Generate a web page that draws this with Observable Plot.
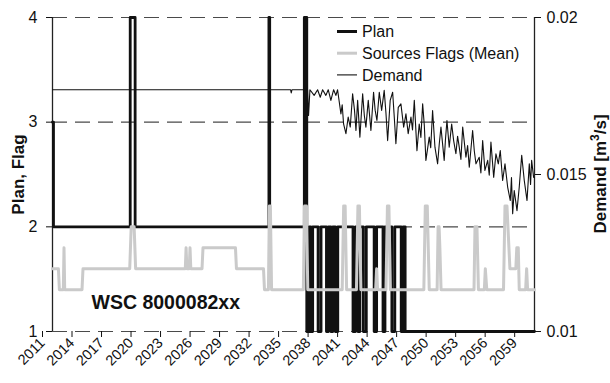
<!DOCTYPE html>
<html><head><meta charset="utf-8">
<script src="https://cdn.jsdelivr.net/npm/d3@7"></script>
<script src="https://cdn.jsdelivr.net/npm/@observablehq/plot@0.6"></script>
<style>
body{margin:0;background:#fff;}
#chart{position:relative;width:610px;height:383px;}
</style></head><body><div id="chart"></div>
<script>
// ---- data ----
const xDomain = [2011, 2060];
const xTicks = [2011, 2014, 2017, 2020, 2023, 2026, 2029, 2032, 2035, 2038, 2041, 2044, 2047, 2050, 2053, 2056, 2059];
const yTicks = [1, 2, 3, 4];
const demandTicks = [0.01, 0.015, 0.02];
const demandTickLabels = ["0.01", "0.015", "0.02"];
const seriesNames = ["Plan", "Sources Flags (Mean)", "Demand"];
const annotation = "WSC 8000082xx";
const leftLabel = "Plan, Flag";
const rightLabelParts = ["Demand [m", "3", "/s]"];

const planT = [2011.0, 2011.1, 2018.9, 2019.4, 2033.0, 2033.08, 2036.6, 2036.85, 2037.1, 2037.25, 2037.45, 2038.0, 2038.3, 2038.85, 2039.05, 2039.3, 2039.5, 2039.75, 2040.0, 2041.55, 2041.8, 2042.05, 2042.25, 2042.6, 2042.9, 2043.7, 2043.95, 2044.6, 2044.8, 2045.5, 2045.8, 2046.45, 2046.65, 2046.85, 2060.0];
const planV = [3, 2, 4, 2, 4, 2, 4, 1, 2, 1, 2, 1, 2, 1, 2, 1, 2, 1, 2, 1, 2, 1, 2, 1, 2, 1, 2, 1, 2, 1, 2, 1, 2, 1, 1];

const flagT = [2011.0, 2011.6, 2011.7, 2012.1, 2012.17, 2012.24, 2014.0, 2014.1, 2018.85, 2019.0, 2019.3, 2019.45, 2024.5, 2024.58, 2024.66, 2024.9, 2024.98, 2025.06, 2026.2, 2026.3, 2029.6, 2029.7, 2032.45, 2032.55, 2032.95, 2033.05, 2033.15, 2033.27, 2036.5, 2036.62, 2036.82, 2036.95, 2040.45, 2040.6, 2040.75, 2040.9, 2041.9, 2042.05, 2042.2, 2042.35, 2043.85, 2043.95, 2044.05, 2044.9, 2045.05, 2045.2, 2045.35, 2048.75, 2048.9, 2049.1, 2049.3, 2050.1, 2050.2, 2050.3, 2050.38, 2050.5, 2053.85, 2053.95, 2054.15, 2054.3, 2054.9, 2055.0, 2055.15, 2056.85, 2057.0, 2057.2, 2057.5, 2058.1, 2058.2, 2058.35, 2058.45, 2059.1, 2059.2, 2059.3, 2060.0];
const flagV = [1.6, 1.6, 1.4, 1.4, 1.8, 1.4, 1.4, 1.6, 1.6, 2.0, 2.0, 1.6, 1.6, 1.8, 1.6, 1.6, 1.8, 1.6, 1.6, 1.8, 1.8, 1.6, 1.6, 1.4, 1.4, 2.2, 2.2, 1.4, 1.4, 2.2, 2.2, 1.4, 1.4, 2.2, 2.2, 1.4, 1.4, 2.2, 2.2, 1.4, 1.4, 1.6, 1.4, 1.4, 2.2, 2.2, 1.4, 1.4, 2.2, 2.2, 1.4, 1.4, 2.0, 2.0, 1.8, 1.4, 1.4, 2.0, 2.0, 1.4, 1.4, 1.6, 1.4, 1.4, 2.2, 2.2, 1.6, 1.6, 1.8, 1.8, 1.4, 1.4, 1.6, 1.4, 1.4];

const demT = [2011.0, 2032.95, 2033.02, 2033.1, 2035.2, 2035.27, 2035.35, 2036.93, 2037.03, 2037.17, 2037.6, 2037.95, 2038.22, 2038.46, 2038.79, 2039.03, 2039.3, 2039.58, 2039.81, 2039.98, 2040.32, 2040.45, 2040.59, 2040.83, 2041.06, 2041.27, 2041.51, 2041.7, 2041.85, 2042.02, 2042.25, 2042.53, 2042.7, 2042.86, 2043.1, 2043.37, 2043.64, 2043.8, 2043.98, 2044.22, 2044.46, 2044.72, 2044.9, 2045.07, 2045.33, 2045.58, 2045.75, 2045.91, 2046.15, 2046.42, 2046.7, 2046.93, 2047.16, 2047.44, 2047.6, 2047.78, 2048.05, 2048.28, 2048.45, 2048.63, 2048.8, 2048.96, 2049.3, 2049.45, 2049.64, 2049.88, 2050.15, 2050.32, 2050.49, 2050.82, 2050.95, 2051.1, 2051.33, 2051.58, 2051.78, 2052.01, 2052.18, 2052.35, 2052.52, 2052.7, 2053.03, 2053.2, 2053.37, 2053.71, 2053.88, 2054.05, 2054.38, 2054.55, 2054.73, 2054.96, 2055.24, 2055.4, 2055.57, 2055.85, 2056.08, 2056.32, 2056.52, 2056.76, 2057.0, 2057.27, 2057.54, 2057.66, 2057.78, 2057.94, 2058.22, 2058.45, 2058.7, 2058.96, 2059.24, 2059.47, 2059.6, 2059.71, 2059.91, 2060.0];
const demV = [0.0177, 0.0177, 0.01758, 0.0177, 0.0177, 0.0176, 0.0177, 0.0177, 0.01688, 0.0177, 0.01752, 0.0177, 0.01746, 0.0177, 0.01752, 0.0177, 0.01736, 0.0177, 0.01752, 0.0177, 0.01693, 0.01722, 0.01661, 0.0163, 0.01683, 0.01651, 0.01757, 0.01705, 0.0164, 0.01736, 0.01619, 0.01757, 0.01688, 0.01651, 0.01736, 0.0164, 0.01762, 0.01705, 0.01672, 0.01762, 0.01704, 0.01768, 0.01695, 0.01608, 0.01736, 0.01762, 0.0168, 0.01598, 0.01714, 0.01725, 0.01651, 0.01693, 0.0163, 0.01683, 0.01642, 0.01736, 0.01576, 0.01661, 0.01618, 0.01725, 0.01655, 0.01545, 0.01619, 0.01585, 0.01704, 0.01587, 0.01534, 0.01598, 0.01651, 0.01545, 0.01612, 0.01672, 0.01587, 0.01661, 0.01608, 0.01566, 0.01622, 0.01587, 0.01548, 0.01651, 0.01555, 0.01592, 0.01523, 0.0164, 0.01575, 0.01534, 0.01555, 0.01505, 0.01608, 0.01513, 0.01545, 0.01498, 0.01603, 0.01491, 0.01566, 0.01534, 0.01576, 0.01481, 0.01534, 0.0146, 0.01417, 0.0149, 0.01375, 0.01449, 0.01385, 0.0146, 0.01561, 0.01481, 0.01417, 0.01534, 0.01468, 0.01545, 0.01491, 0.0149];

// ---- build ----
const plan = planT.map((t, i) => ({t, v: planV[i]}));
const flags = flagT.map((t, i) => ({t, v: flagV[i]}));
const demand = demT.map((t, i) => ({t, v: demV[i]}));
const toLeft = d => 1 + (d - 0.01) / 0.01 * 3;
const rightTickPos = demandTicks.map(toLeft);
const rightFmt = p => demandTickLabels[rightTickPos.findIndex(q => Math.abs(q - p) < 1e-9)];

const FONT = "'Liberation Sans', Arial, Helvetica, sans-serif";
const colors = {plan: "#111111", flags: "#cacaca", demand: "#111111"};

const plot = Plot.plot({
  width: 610, height: 383,
  marginLeft: 52, marginRight: 76, marginTop: 17, marginBottom: 52,
  style: {fontFamily: FONT, fontSize: "16px", color: "#111", background: "#fff"},
  x: {domain: xDomain},
  y: {domain: [1, 4]},
  marks: [
    Plot.ruleY(yTicks, {stroke: "#4a4a4a", strokeWidth: 1.2, strokeDasharray: "15 8"}),
    Plot.ruleX(xDomain, {stroke: "#222", strokeWidth: 1.3}),
    Plot.axisY({ticks: yTicks, anchor: "left", tickSize: 6, tickPadding: 9, tickFormat: d => String(d), label: null, fontSize: 16}),
    Plot.axisY({ticks: rightTickPos, anchor: "right", tickSize: 6, tickPadding: 6, tickFormat: rightFmt, label: null, fontSize: 16}),
    Plot.axisX({ticks: xTicks, tickFormat: d => String(d), tickRotate: -45, tickSize: 6, tickPadding: 3, dx: -10, dy: 0, label: null, fontSize: 14.5}),
    Plot.line(plan, {x: "t", y: "v", curve: "step-after", stroke: colors.plan, strokeWidth: 2.8}),
    Plot.line(flags, {x: "t", y: "v", stroke: colors.flags, strokeWidth: 3}),
    Plot.line(demand, {x: "t", y: d => toLeft(d.v), stroke: colors.demand, strokeWidth: 1.1}),
    Plot.text([annotation], {frameAnchor: "bottom-left", dx: 39, dy: -29, textAnchor: "start", lineAnchor: "middle", fontSize: 19.5, fontWeight: "bold", fill: "#111"}),
    Plot.text([leftLabel], {frameAnchor: "left", dx: -29, rotate: -90, textAnchor: "middle", lineAnchor: "bottom", fontSize: 17, fontWeight: "bold", fill: "#111"})
  ]
});

const svg = d3.select(plot);

// right axis title with superscript
const rt = svg.append("text")
  .attr("transform", "translate(606,174) rotate(-90)")
  .attr("text-anchor", "middle").attr("font-family", FONT).attr("font-size", 17)
  .attr("font-weight", "bold").attr("fill", "#111");
rt.append("tspan").text(rightLabelParts[0]);
rt.append("tspan").attr("font-size", 12).attr("dy", -7).text(rightLabelParts[1]);
rt.append("tspan").attr("dy", 7).text(rightLabelParts[2]);

// legend (inside plot, top right)
const lg = svg.append("g").attr("font-family", FONT).attr("font-size", 16).attr("fill", "#111").attr("text-anchor", "start");
const swatch = [
  {stroke: colors.plan, w: 3},
  {stroke: colors.flags, w: 3},
  {stroke: colors.demand, w: 1.1}
];
seriesNames.forEach((name, i) => {
  const y = 31.5 + i * 21.7;
  lg.append("line").attr("x1", 337).attr("x2", 357).attr("y1", y).attr("y2", y)
    .attr("stroke", swatch[i].stroke).attr("stroke-width", swatch[i].w);
  lg.append("text").attr("x", 362).attr("y", y).attr("dy", "0.36em").attr("text-anchor", "start").text(name);
});

document.getElementById("chart").appendChild(plot);
</script></body></html>
